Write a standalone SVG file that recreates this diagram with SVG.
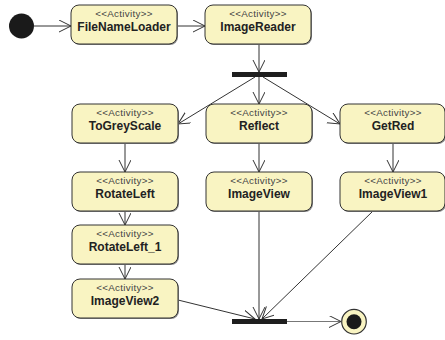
<svg xmlns="http://www.w3.org/2000/svg" width="445" height="340" viewBox="0 0 445 340">
<style>
.box{fill:#f9f4c2;stroke:#333;stroke-width:1}
.sh{fill:#888}
.st{font-family:"Liberation Sans",Arial,sans-serif;font-size:9.8px;fill:#444;text-anchor:middle;letter-spacing:0.3px}
.nm{font-family:"Liberation Sans",Arial,sans-serif;font-size:12px;font-weight:bold;fill:#222;text-anchor:middle}
.e{stroke:#333;stroke-width:1;fill:none;marker-end:url(#ah)}
</style>
<defs>
<marker id="ah" markerUnits="userSpaceOnUse" markerWidth="14" markerHeight="14" refX="12" refY="6" orient="auto">
<path d="M0,0 L12,6 L0,12" fill="none" stroke="#333" stroke-width="1"/>
</marker>
</defs>
<rect width="445" height="340" fill="#fff"/>
<g id="connectors">
<path class="e" d="M34,26 L71,26"/>
<path class="e" d="M177,26 L205,26"/>
<path class="e" d="M259,44 L259,72"/>
<path class="e" d="M255,77 L178,124"/>
<path class="e" d="M259,77 L259,104"/>
<path class="e" d="M263,77 L340,124"/>
<path class="e" d="M125,143 L125,172"/>
<path class="e" d="M259,143 L259,172"/>
<path class="e" d="M393,143 L393,172"/>
<path class="e" d="M125,211 L125,225"/>
<path class="e" d="M125,264 L125,279"/>
<path class="e" d="M259,211 L259,319"/>
<path class="e" d="M373,211 L262,319"/>
<path class="e" d="M178,300 L255,319"/>
<path class="e" d="M287,321.5 L341,321.5" style="stroke:#777"/>
</g>
<g id="initial"><circle cx="21.5" cy="26" r="12.5" fill="#1a1a1a"/></g>
<g id="FileNameLoader"><rect class="sh" x="72" y="6" width="106" height="39" rx="8"/><rect class="box" x="71" y="5" width="106" height="39" rx="8"/><text class="st" x="124" y="16.5">&lt;&lt;Activity&gt;&gt;</text><text class="nm" x="124" y="30.5">FileNameLoader</text></g>
<g id="ImageReader"><rect class="sh" x="206" y="6" width="106" height="39" rx="8"/><rect class="box" x="205" y="5" width="106" height="39" rx="8"/><text class="st" x="258" y="16.5">&lt;&lt;Activity&gt;&gt;</text><text class="nm" x="258" y="30.5">ImageReader</text></g>
<g id="fork"><rect x="232" y="72" width="55" height="5" fill="#1e1e1e"/></g>
<g id="ToGreyScale"><rect class="sh" x="73" y="105" width="106" height="39" rx="8"/><rect class="box" x="72" y="104" width="106" height="39" rx="8"/><text class="st" x="125" y="115.5">&lt;&lt;Activity&gt;&gt;</text><text class="nm" x="125" y="129.5">ToGreyScale</text></g>
<g id="Reflect"><rect class="sh" x="207" y="105" width="106" height="39" rx="8"/><rect class="box" x="206" y="104" width="106" height="39" rx="8"/><text class="st" x="259" y="115.5">&lt;&lt;Activity&gt;&gt;</text><text class="nm" x="259" y="129.5">Reflect</text></g>
<g id="GetRed"><rect class="sh" x="341" y="105" width="105" height="39" rx="8"/><rect class="box" x="340" y="104" width="105" height="39" rx="8"/><text class="st" x="393" y="115.5">&lt;&lt;Activity&gt;&gt;</text><text class="nm" x="393" y="129.5">GetRed</text></g>
<g id="RotateLeft"><rect class="sh" x="73" y="173" width="106" height="39" rx="8"/><rect class="box" x="72" y="172" width="106" height="39" rx="8"/><text class="st" x="125" y="183.5">&lt;&lt;Activity&gt;&gt;</text><text class="nm" x="125" y="197.5">RotateLeft</text></g>
<g id="ImageView"><rect class="sh" x="207" y="173" width="106" height="39" rx="8"/><rect class="box" x="206" y="172" width="106" height="39" rx="8"/><text class="st" x="259" y="183.5">&lt;&lt;Activity&gt;&gt;</text><text class="nm" x="259" y="197.5">ImageView</text></g>
<g id="ImageView1"><rect class="sh" x="341" y="173" width="105" height="39" rx="8"/><rect class="box" x="340" y="172" width="105" height="39" rx="8"/><text class="st" x="393" y="183.5">&lt;&lt;Activity&gt;&gt;</text><text class="nm" x="393" y="197.5">ImageView1</text></g>
<g id="RotateLeft_1"><rect class="sh" x="73" y="226" width="106" height="39" rx="8"/><rect class="box" x="72" y="225" width="106" height="39" rx="8"/><text class="st" x="125" y="236.5">&lt;&lt;Activity&gt;&gt;</text><text class="nm" x="125" y="250.5">RotateLeft_1</text></g>
<g id="ImageView2"><rect class="sh" x="73" y="280" width="106" height="39" rx="8"/><rect class="box" x="72" y="279" width="106" height="39" rx="8"/><text class="st" x="125" y="290.5">&lt;&lt;Activity&gt;&gt;</text><text class="nm" x="125" y="304.5">ImageView2</text></g>
<g id="join"><rect x="232" y="319" width="55" height="5" fill="#1e1e1e"/></g>
<g id="final"><circle cx="354" cy="321.7" r="12.3" fill="#f9f4c2" stroke="#333" stroke-width="1.2"/><circle cx="354" cy="321.7" r="7.5" fill="#1a1a1a"/></g>
</svg>
